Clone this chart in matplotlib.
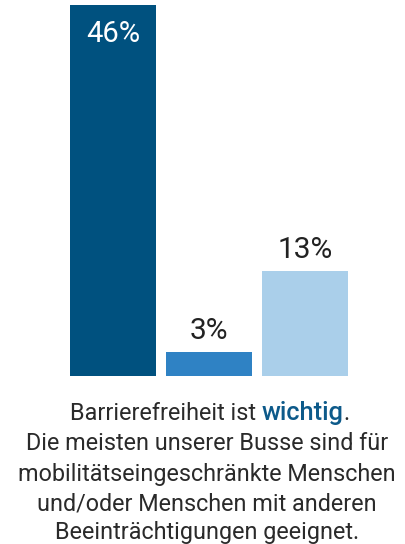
import matplotlib
matplotlib.use("Agg")
import matplotlib.pyplot as plt

categories = ["A", "B", "C"]
values = [46, 3, 13]
labels = ["46%", "3%", "13%"]
colors = ["#00517f", "#2f82c4", "#aacfea"]
line1 = ["Barrierefreiheit ist ", "wichtig", "."]
body_lines = ["Die meisten unserer Busse sind für",
              "mobilitätseingeschränkte Menschen",
              "und/oder Menschen mit anderen",
              "Beeinträchtigungen geeignet."]

W, H = 405, 544
fig = plt.figure(figsize=(W / 100, H / 100), dpi=100)
plt.rcParams['font.family'] = ['Roboto', 'DejaVu Sans']

ax_bottom_px = 375.7
ax = fig.add_axes([65 / W, (H - ax_bottom_px) / H, 288 / W, ax_bottom_px / H])
ax.set_xlim(-0.5, 2.5)
ax.set_ylim(0, ax_bottom_px / 8.05)
x = list(range(len(values)))
ax.bar(x, values, width=0.906, color=colors)
ax.axis('off')

for i, (v, lab) in enumerate(zip(values, labels)):
    if i == 0:
        ax.annotate(lab, (i, v), xytext=(0, -29), textcoords='offset pixels',
                    ha='center', va='center', color='white', fontsize=21)
    else:
        ax.annotate(lab, (i, v), xytext=(0, 21), textcoords='offset pixels',
                    ha='center', va='center', color='#222222', fontsize=21.5)

# Text block
cx = 207
fs = 16.8
tcol = '#2a2a2a'
fig.canvas.draw()
r = fig.canvas.get_renderer()
y1 = H - 413
tmp = []
for j, s in enumerate(line1):
    kw = dict(fontsize=fs, color=tcol, va='center', ha='left')
    if j == 1:
        kw.update(color='#0d5a8a', fontweight='medium', fontsize=fs + 1.5)
    t = fig.text(0, y1 / H, s, **kw)
    tmp.append(t)
widths = [t.get_window_extent(r).width for t in tmp]
sp = fig.text(0, 0, "ist ", fontsize=fs)
sp2 = fig.text(0, 0, "ist", fontsize=fs)
wsp = sp.get_window_extent(r).width - sp2.get_window_extent(r).width
sp.remove(); sp2.remove()
t0 = fig.text(0, 0, line1[0].rstrip(), fontsize=fs)
widths[0] = t0.get_window_extent(r).width
t0.remove()
total = widths[0] + wsp + widths[1] + widths[2]
xpos = cx + 3 - total / 2
tmp[0].set_x(xpos / W)
tmp[1].set_x((xpos + widths[0] + wsp) / W)
tmp[2].set_x((xpos + widths[0] + wsp + widths[1]) / W)

ys = [443, 474.5, 503.5, 532]
for s, yy in zip(body_lines, ys):
    fig.text(cx / W, (H - yy) / H, s, ha='center', va='center', fontsize=fs, color=tcol)

fig.savefig("out.png", dpi=100)
